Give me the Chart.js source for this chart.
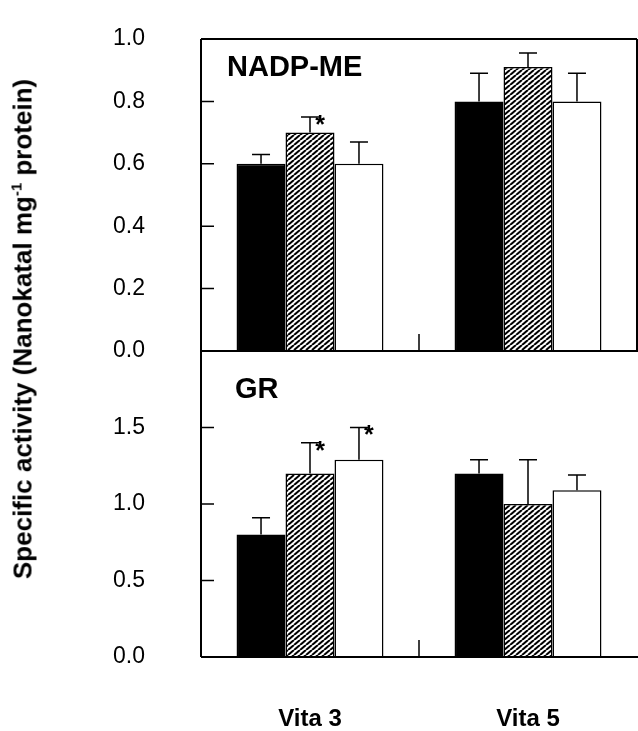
<!DOCTYPE html>
<html>
<head>
<meta charset="utf-8">
<script src="https://cdn.jsdelivr.net/npm/chart.js@4.4.1/dist/chart.umd.min.js"></script>
<style>
  body { margin: 0; background: #fff; }
  #wrap { position: relative; width: 638px; height: 731px; overflow: hidden; }
  #topChart { position: absolute; left: 0; top: 0; }
  #botChart { position: absolute; left: 0; top: 340px; }
  #ytitle {
    position: absolute; left: 23px; top: 329px;
    transform: translate(-50%, -50%) rotate(-90deg);
    white-space: nowrap;
    font: bold 26px "Liberation Sans", Arial, sans-serif;
    color: #000;
  }
  #ytitle sup { font-size: 15px; vertical-align: 10px; line-height: 0; }
</style>
</head>
<body>
<div id="wrap">
  <canvas id="topChart" width="638" height="365"></canvas>
  <canvas id="botChart" width="638" height="391"></canvas>
  <div id="ytitle">Specific activity (Nanokatal mg<sup>-1</sup> protein)</div>
</div>
<script>
// cultivars on the x axis
const cultivars = ['Vita 3', 'Vita 5'];
const treatments = ['Control', 'Treatment A', 'Treatment B'];

// NADP-ME (top panel)
const nadpMean = [
  [0.60, 0.80],   // black
  [0.70, 0.91],   // hatched
  [0.60, 0.80]    // white
];
const nadpErr = [
  [0.03, 0.09],
  [0.05, 0.045],
  [0.07, 0.09]
];
const nadpStar = [
  [false, false],
  [true, false],
  [false, false]
];
const nadpTicks = [0, 0.2, 0.4, 0.6, 0.8, 1.0];

// GR (bottom panel)
const grMean = [
  [0.80, 1.20],
  [1.20, 1.00],
  [1.29, 1.09]
];
const grErr = [
  [0.11, 0.09],
  [0.20, 0.29],
  [0.21, 0.10]
];
const grStar = [
  [false, false],
  [true, false],
  [true, false]
];
const grTicks = [0, 0.5, 1.0, 1.5, 2.0];

const FONT = '"Liberation Sans", Arial, sans-serif';

function hatchPattern() {
  const w = 6, h = 5;
  const c = document.createElement('canvas');
  c.width = w; c.height = h;
  const g = c.getContext('2d');
  g.fillStyle = '#fff';
  g.fillRect(0, 0, w, h);
  g.strokeStyle = '#000';
  g.lineWidth = 2.1;
  g.beginPath();
  for (let k = -1; k <= 1; k++) {
    g.moveTo(k * w, h);
    g.lineTo((k + 1) * w, 0);
  }
  g.stroke();
  return g.createPattern(c, 'repeat');
}

const fills = ['#000', hatchPattern(), '#fff'];

function makeDatasets(means) {
  return means.map((vals, i) => ({
    label: treatments[i],
    data: vals,
    backgroundColor: fills[i],
    borderColor: '#000',
    borderWidth: 1.5,
    borderSkipped: 'bottom',
    categoryPercentage: 0.674,
    barPercentage: 1.0
  }));
}

// frame, inward ticks, error bars, stars and panel label
function panelPlugin(cfg) {
  return {
    id: 'panel_' + cfg.name,
    afterDatasetsDraw(chart) {
      const ctx = chart.ctx;
      const a = chart.chartArea;
      const xs = chart.scales.x, ys = chart.scales.y;
      ctx.save();
      ctx.strokeStyle = '#000';
      ctx.fillStyle = '#000';

      // error bars
      ctx.lineWidth = 1.5;
      chart.data.datasets.forEach((ds, i) => {
        const meta = chart.getDatasetMeta(i);
        meta.data.forEach((bar, j) => {
          const top = ys.getPixelForValue(cfg.means[i][j] + cfg.errs[i][j]);
          const base = ys.getPixelForValue(cfg.means[i][j]);
          ctx.beginPath();
          ctx.moveTo(bar.x, base);
          ctx.lineTo(bar.x, top);
          ctx.moveTo(bar.x - 9, top);
          ctx.lineTo(bar.x + 9, top);
          ctx.stroke();
          if (cfg.stars[i][j]) {
            ctx.font = 'bold 25px ' + FONT;
            ctx.textAlign = 'center';
            ctx.textBaseline = 'middle';
            ctx.fillText('*', bar.x + 10, top + 9);
          }
        });
      });

      // frame
      const xr = cfg.rightBorder ? a.right : chart.width;
      ctx.lineWidth = 2;
      ctx.beginPath();
      ctx.moveTo(a.left, a.top);
      ctx.lineTo(a.left, a.bottom);
      ctx.moveTo(a.left, a.top);
      ctx.lineTo(xr, a.top);
      ctx.moveTo(a.left, a.bottom);
      ctx.lineTo(xr, a.bottom);
      if (cfg.rightBorder) {
        ctx.moveTo(a.right, a.top);
        ctx.lineTo(a.right, a.bottom);
      }
      ctx.stroke();

      // inward y ticks
      ctx.lineWidth = 1.5;
      ctx.beginPath();
      cfg.ticks.forEach(v => {
        if (v <= ys.min || v >= ys.max) return;
        const y = ys.getPixelForValue(v);
        ctx.moveTo(a.left, y);
        ctx.lineTo(a.left + 13, y);
      });
      // category divider tick
      const xd = (xs.getPixelForValue(0) + xs.getPixelForValue(1)) / 2;
      ctx.moveTo(xd, a.bottom);
      ctx.lineTo(xd, a.bottom - 17);
      ctx.stroke();

      // panel label
      ctx.font = 'bold 29px ' + FONT;
      ctx.textAlign = 'left';
      ctx.textBaseline = 'alphabetic';
      ctx.fillText(cfg.name, a.left + cfg.labelDx, a.top + cfg.labelDy);
      ctx.restore();
    }
  };
}

function yAxis(max, tickList, hideMax) {
  return {
    min: 0, max: max,
    afterFit(s) { s.width = 201; s.paddingTop = 0; s.paddingBottom = 0; },
    afterBuildTicks(s) { s.ticks = tickList.map(v => ({ value: v })); },
    ticks: {
      padding: 56,
      color: '#000',
      font: { family: FONT, size: 23 },
      callback: v => (hideMax && v >= max) ? '' : v.toFixed(1)
    },
    grid: { display: false, drawTicks: false },
    border: { display: false }
  };
}

new Chart(document.getElementById('topChart'), {
  type: 'bar',
  data: { labels: cultivars, datasets: makeDatasets(nadpMean) },
  options: {
    responsive: false,
    animation: false,
    layout: { padding: { top: 39, bottom: 14, left: 0, right: 1 } },
    plugins: { legend: { display: false }, tooltip: { enabled: false } },
    scales: {
      x: { display: false, offset: true },
      y: yAxis(1, nadpTicks, false)
    }
  },
  plugins: [panelPlugin({
    name: 'NADP-ME', means: nadpMean, errs: nadpErr, stars: nadpStar,
    ticks: nadpTicks, rightBorder: true, labelDx: 26, labelDy: 37
  })]
});

new Chart(document.getElementById('botChart'), {
  type: 'bar',
  data: { labels: cultivars, datasets: makeDatasets(grMean) },
  options: {
    responsive: false,
    animation: false,
    layout: { padding: { top: 11, bottom: 0, left: 0, right: 1 } },
    plugins: { legend: { display: false }, tooltip: { enabled: false } },
    scales: {
      x: {
        offset: true,
        afterFit(s) { s.height = 74; },
        ticks: {
          padding: 48,
          color: '#000',
          font: { family: FONT, size: 24, weight: 'bold' }
        },
        grid: { display: false, drawTicks: false },
        border: { display: false }
      },
      y: yAxis(2, grTicks, true)
    }
  },
  plugins: [panelPlugin({
    name: 'GR', means: grMean, errs: grErr, stars: grStar,
    ticks: grTicks, rightBorder: false, labelDx: 34, labelDy: 47
  })]
});
</script>
</body>
</html>
